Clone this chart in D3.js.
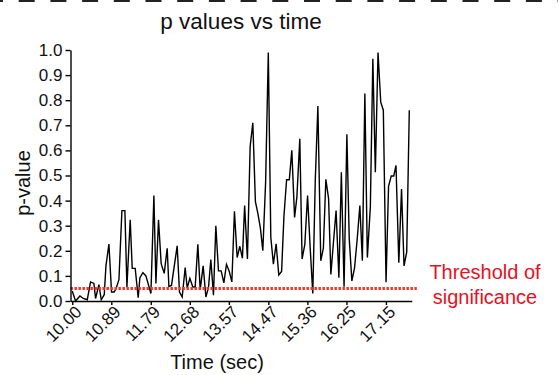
<!DOCTYPE html>
<html><head><meta charset="utf-8">
<script src="https://cdn.jsdelivr.net/npm/d3@7"></script>
<style>
body{margin:0;background:#fff}
svg{display:block}
text{font-family:"Liberation Sans",Arial,Helvetica,sans-serif}
</style>
</head><body>
<svg id="chart" width="558" height="375"></svg>
<script>
// ---- data ----
const times = [
10.000,10.075,10.175,10.251,10.342,10.417,10.494,10.531,10.608,10.661,
10.729,10.768,10.836,10.895,10.957,11.009,11.064,11.132,11.200,11.246,
11.321,11.367,11.435,11.503,11.542,11.610,11.679,11.793,11.861,11.907,
11.966,12.027,12.096,12.164,12.203,12.262,12.392,12.444,12.506,12.574,
12.620,12.681,12.749,12.802,12.863,12.916,12.984,13.046,13.105,13.159,
13.219,13.273,13.333,13.394,13.456,13.515,13.576,13.638,13.697,13.759,
13.820,13.879,13.929,13.993,14.055,14.116,14.175,14.230,14.289,14.344,
14.408,14.469,14.526,14.585,14.647,14.708,14.772,14.825,14.886,14.948,
15.005,15.068,15.121,15.187,15.239,15.301,15.364,15.421,15.483,15.540,
15.599,15.665,15.724,15.781,15.843,15.895,15.952,16.014,16.078,16.134,
16.196,16.260,16.314,16.374,16.435,16.497,16.556,16.613,16.670,16.727,
16.795,16.852,16.909,16.970,17.032,17.091,17.153,17.210,17.271,17.328,
17.380,17.444,17.506,17.563,17.624,17.683];

const pValues = [
0.04,0.0,0.02,0.01,0.005,0.076,0.07,0.01,0.065,0.005,
0.025,0.14,0.227,0.036,0.036,0.055,0.085,0.36,0.36,0.055,
0.324,0.13,0.13,0.013,0.093,0.113,0.10,0.03,0.42,0.07,
0.324,0.149,0.11,0.21,0.058,0.062,0.22,0.036,0.016,0.133,
0.052,0.09,0.056,0.056,0.226,0.045,0.14,0.016,0.053,0.165,
0.023,0.30,0.12,0.12,0.072,0.146,0.12,0.076,0.357,0.173,
0.218,0.17,0.38,0.167,0.615,0.71,0.396,0.35,0.29,0.2,
0.475,0.99,0.254,0.147,0.228,0.104,0.118,0.336,0.483,0.483,
0.60,0.333,0.415,0.646,0.167,0.225,0.42,0.22,0.03,0.482,
0.777,0.16,0.21,0.485,0.408,0.106,0.23,0.36,0.093,0.513,
0.057,0.664,0.248,0.08,0.132,0.25,0.38,0.16,0.827,0.173,
0.375,0.965,0.513,0.99,0.792,0.76,0.075,0.457,0.498,0.498,
0.54,0.152,0.446,0.14,0.195,0.76];

const xTickLabels = ["10.00","10.89","11.79","12.68","13.57","14.47","15.36","16.25","17.15"];
const yTickValues = [0,0.1,0.2,0.3,0.4,0.5,0.6,0.7,0.8,0.9,1.0];
const xDomain = [9.96, 17.74];
const yDomain = [0, 1];
const threshold = 0.05;
const titleText = "p values vs time";
const xTitle = "Time (sec)";
const yTitle = "p-value";
const thresholdLabel = ["Threshold of", "significance"];

// ---- drawing ----
const svg = d3.select("#chart");
const W = 558, H = 375;
const plotLeft = 70.5, plotRight = 411.8, plotTop = 50, plotBottom = 301;

const x = d3.scaleLinear().domain(xDomain).range([plotLeft, plotRight]);
const y = d3.scaleLinear().domain(yDomain).range([plotBottom, plotTop]);

// top dashed border
svg.append("line")
  .attr("x1", 0).attr("x2", W).attr("y1", 1).attr("y2", 1)
  .attr("stroke", "#222").attr("stroke-width", 2)
  .attr("stroke-dasharray", "16 15.7").attr("stroke-dashoffset", 13);

// title
svg.append("text").attr("x", 241).attr("y", 29)
  .attr("text-anchor", "middle").attr("font-size", 22.5).attr("fill", "#111")
  .text(titleText);

// data line
const line = d3.line().x((d, i) => x(times[i])).y(d => y(d));
svg.append("path").datum(pValues)
  .attr("d", line).attr("fill", "none")
  .attr("stroke", "#000").attr("stroke-width", 1.4).attr("stroke-linejoin", "miter");

// threshold dotted line
svg.append("line")
  .attr("x1", x.range()[0]).attr("x2", x.range()[1] + 5)
  .attr("y1", y(threshold)).attr("y2", y(threshold))
  .attr("stroke", "#ff2d1f").attr("stroke-width", 3)
  .attr("stroke-dasharray", "2.4 1.6");

// y axis
const yAxis = svg.append("g").attr("transform", `translate(${plotLeft},0)`)
  .call(d3.axisLeft(y).tickValues(yTickValues).tickFormat(d3.format(".1f"))
    .tickSize(5).tickSizeOuter(0).tickPadding(3));
yAxis.selectAll("path,line").attr("stroke", "#000").attr("stroke-width", 1.4);
yAxis.selectAll("text").attr("font-size", 17).attr("fill", "#111")
  .attr("font-family", "Liberation Sans, Arial, sans-serif");

// x axis
const xAxis = svg.append("g").attr("transform", `translate(0,${plotBottom})`)
  .call(d3.axisBottom(x).tickValues(xTickLabels.map(Number))
    .tickFormat((d, i) => xTickLabels[i]).tickSize(4).tickSizeOuter(0));
xAxis.selectAll("path,line").attr("stroke", "#000").attr("stroke-width", 1.4);
xAxis.selectAll("text")
  .attr("font-size", 17).attr("fill", "#111")
  .attr("font-family", "Liberation Sans, Arial, sans-serif")
  .attr("x", 0).attr("y", 0).attr("dy", 0)
  .attr("text-anchor", "end")
  .attr("transform", "translate(10,12) rotate(-45)");

// axis titles
svg.append("text").attr("x", 217).attr("y", 369)
  .attr("text-anchor", "middle").attr("font-size", 20).attr("fill", "#111")
  .text(xTitle);
svg.append("text")
  .attr("transform", "translate(30,183) rotate(-90)")
  .attr("text-anchor", "middle").attr("font-size", 20).attr("fill", "#111")
  .text(yTitle);

// threshold label
const tl = svg.append("text").attr("text-anchor", "middle")
  .attr("font-size", 20).attr("fill", "#e8101e");
thresholdLabel.forEach((s, i) => {
  tl.append("tspan").attr("x", 485).attr("y", 279 + i * 25).text(s);
});
</script>
</body></html>
